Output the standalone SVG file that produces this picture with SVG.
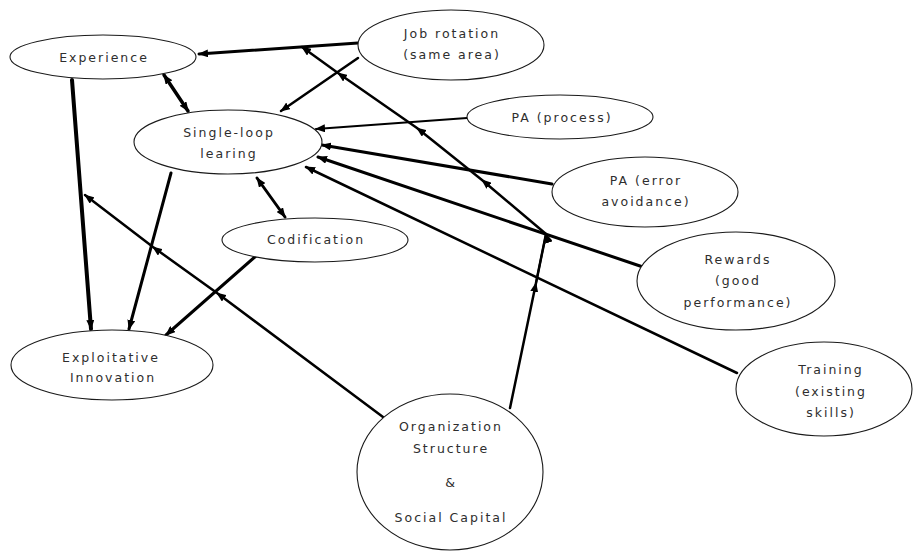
<svg xmlns="http://www.w3.org/2000/svg" width="913" height="551" viewBox="0 0 913 551">
  <style>
    .node ellipse { fill: #ffffff; stroke: #1a1a1a; stroke-width: 1.1; }
    .node text { font-family: "DejaVu Sans", Verdana, sans-serif; font-size: 12.5px; letter-spacing: 2px; fill: #2e2e2e; text-anchor: middle; }
    .edge { fill: none; stroke: #000; stroke-linecap: round; stroke-linejoin: round; }
    .one { marker-end: url(#ah); }
    .both { marker-start: url(#ah); marker-end: url(#ah); }
    .mod { marker-mid: url(#ah); marker-end: url(#ah); }
  </style>
  <defs>
    <marker id="ah" markerUnits="userSpaceOnUse" viewBox="0 0 10 8" markerWidth="10" markerHeight="8" refX="9" refY="4" orient="auto-start-reverse">
      <path d="M0,0 L10,4 L0,8 z" fill="#000"/>
    </marker>
  </defs>
  <rect width="913" height="551" fill="#ffffff"/>

  <g id="connectors">
    <!-- Job rotation to Experience and Single-loop learning -->
    <path class="edge one" stroke-width="3" d="M358,43 L199,54"/>
    <path class="edge one" stroke-width="2.5" d="M358,58 L281,111"/>
    <!-- Experience <-> Single-loop learning -->
    <path class="edge both" stroke-width="3.5" d="M164,75 L188,111"/>
    <!-- inputs to Single-loop learning -->
    <path class="edge one" stroke-width="2" d="M467,118 L316,129"/>
    <path class="edge one" stroke-width="3" d="M552,184 L322,145"/>
    <path class="edge one" stroke-width="3" d="M643,267 L318,157"/>
    <path class="edge one" stroke-width="2.5" d="M737,373 L306,167"/>
    <!-- Single-loop learning <-> Codification -->
    <path class="edge both" stroke-width="3" d="M257,178 L285,217"/>
    <!-- into Exploitative Innovation -->
    <path class="edge one" stroke-width="4" d="M72,80 L91,329"/>
    <path class="edge one" stroke-width="3" d="M171,173 L129,329"/>
    <path class="edge one" stroke-width="3" d="M256,256 L166,335"/>
    <!-- Organization Structure & Social Capital acting on the links -->
    <path class="edge mod" stroke-width="2.5" d="M510,408 L536,283 L546,234 L482,180 L417,128 L338,73 L302,47"/>
    <path class="edge" stroke-width="2" d="M536,283 L546,234"/>
    <path class="edge mod" stroke-width="2.5" d="M383,417 L217,293 L153,247 L85,195"/>
  </g>

  <g id="experience" class="node">
    <ellipse cx="103" cy="57" rx="93" ry="22"/>
    <text x="104" y="62">Experience</text>
  </g>
  <g id="job-rotation" class="node">
    <ellipse cx="451" cy="45" rx="93" ry="35"/>
    <text x="452" y="38">Job rotation</text>
    <text x="452" y="59">(same area)</text>
  </g>
  <g id="single-loop" class="node">
    <ellipse cx="228" cy="142" rx="94" ry="32"/>
    <text x="229" y="137">Single-loop</text>
    <text x="229" y="158">learing</text>
  </g>
  <g id="pa-process" class="node">
    <ellipse cx="560" cy="117" rx="93" ry="22"/>
    <text x="562" y="122">PA (process)</text>
  </g>
  <g id="pa-error" class="node">
    <ellipse cx="645" cy="192" rx="93" ry="35"/>
    <text x="646" y="185">PA (error</text>
    <text x="646" y="206">avoidance)</text>
  </g>
  <g id="codification" class="node">
    <ellipse cx="315" cy="240" rx="93" ry="22"/>
    <text x="316" y="244">Codification</text>
  </g>
  <g id="rewards" class="node">
    <ellipse cx="736" cy="281" rx="99" ry="49"/>
    <text x="738" y="264">Rewards</text>
    <text x="738" y="285">(good</text>
    <text x="738" y="307">performance)</text>
  </g>
  <g id="exploitative" class="node">
    <ellipse cx="112" cy="365" rx="101" ry="35"/>
    <text x="111" y="362">Exploitative</text>
    <text x="113" y="382">Innovation</text>
  </g>
  <g id="training" class="node">
    <ellipse cx="824" cy="389" rx="88" ry="47"/>
    <text x="831" y="374">Training</text>
    <text x="831" y="396">(existing</text>
    <text x="831" y="417">skills)</text>
  </g>
  <g id="organization" class="node">
    <ellipse cx="450" cy="472" rx="93" ry="78"/>
    <text x="451" y="431">Organization</text>
    <text x="451" y="453">Structure</text>
    <text x="451" y="487">&amp;</text>
    <text x="451" y="522">Social Capital</text>
  </g>
</svg>
